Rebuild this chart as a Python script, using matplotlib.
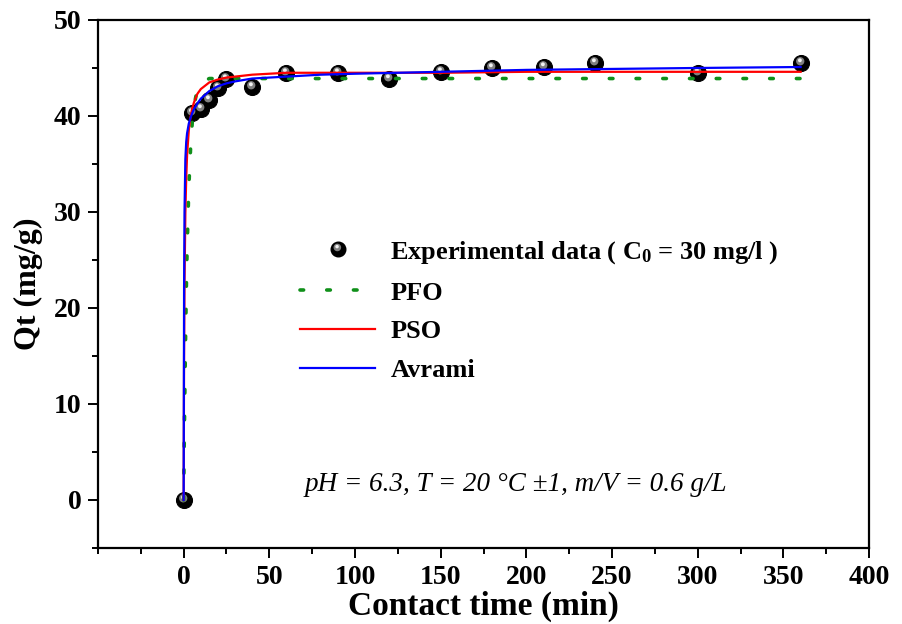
import matplotlib
matplotlib.use("Agg")
import matplotlib.pyplot as plt
from matplotlib.lines import Line2D
from matplotlib.legend_handler import HandlerTuple
from matplotlib.ticker import MultipleLocator
from matplotlib.path import Path

plt.rcParams['font.family'] = ['Liberation Serif', 'DejaVu Serif']
plt.rcParams['mathtext.default'] = 'regular'

# Experimental data
t_exp = [0, 5, 10, 15, 20, 25, 40, 60, 90, 120, 150, 180, 210, 240, 300, 360]
q_exp = [0, 40.3, 40.7, 41.7, 42.9, 43.9, 43.0, 44.5, 44.5, 43.9, 44.6, 45.0, 45.1, 45.5, 44.5, 45.5]

# Model curves
t_fit = [0, 0.25, 0.5, 1, 1.5, 2, 3, 4, 5, 6, 8, 10, 15, 20, 25, 30, 40, 50, 60, 80,
         100, 150, 200, 250, 300, 360]
q_pfo = [0, 4.5, 8.5, 15.5, 21.5, 26.0, 32.5, 36.5, 39.3, 41.0, 42.8, 43.5, 43.9, 43.9,
         43.9, 43.9, 43.9, 43.9, 43.9, 43.9, 43.9, 43.9, 43.9, 43.9, 43.9, 43.9]
q_pso = [0, 15.0, 22.5, 29.9, 33.5, 35.9, 38.5, 39.9, 40.8, 41.4, 42.3, 42.8, 43.5, 43.8,
         44.0, 44.1, 44.3, 44.4, 44.5, 44.5, 44.5, 44.5, 44.6, 44.6, 44.6, 44.6]
q_avrami = [0, 22.0, 30.0, 35.5, 37.3, 38.2, 39.2, 39.8, 40.3, 40.7, 41.3, 41.8, 42.6,
            43.1, 43.4, 43.6, 43.9, 44.0, 44.1, 44.3, 44.4, 44.6, 44.8, 44.9, 45.0, 45.1]

labels = ['Experimental data ( C$_0$ = 30 mg/l )', 'PFO', 'PSO', 'Avrami']
x_label = 'Contact time (min)'
y_label = 'Qt (mg/g)'
note = 'pH = 6.3, T = 20 \u00b0C \u00b11, m/V = 0.6 g/L'


def glint(cx, cy, r):
    """Off-centre circle marker whose path extent stays the unit box."""
    frame = Path([[-0.5, -0.5], [0.5, 0.5]], [Path.MOVETO, Path.MOVETO])
    return Path.make_compound_path(Path.circle((cx, cy), r), frame)


m_grey = glint(-0.08, 0.14, 0.26)
m_white = glint(-0.1, 0.2, 0.12)

fig = plt.figure(figsize=(9.02, 6.24), dpi=100)
ax = fig.add_axes([0.1086, 0.1218, 0.855, 0.8462])

ms = 11.5
ax.plot(t_exp, q_exp, 'o', color='black', ms=ms, mec='black', mew=0.8, zorder=3, clip_on=False)
ax.plot(t_exp, q_exp, ls='none', marker=m_grey, color='#808080', ms=ms, mew=0, zorder=3.1, clip_on=False)
ax.plot(t_exp, q_exp, ls='none', marker=m_white, color='#f2f2f2', ms=ms, mew=0, zorder=3.2, clip_on=False)

green = '#10901a'
l_pfo, = ax.plot(t_fit, q_pfo, color=green, lw=2.6, dashes=(1.0, 6.4),
                 dash_capstyle='round', zorder=4)
l_pso, = ax.plot(t_fit, q_pso, color='#ff0000', lw=1.6, zorder=4)
l_av, = ax.plot(t_fit, q_avrami, color='#0000ff', lw=1.6, zorder=4.1)

ax.set_xlim(-50, 400)
ax.set_ylim(-5, 50)
ax.xaxis.set_minor_locator(MultipleLocator(25))
ax.yaxis.set_minor_locator(MultipleLocator(5))
ax.set_xticks([0, 50, 100, 150, 200, 250, 300, 350, 400])
ax.set_yticks([0, 10, 20, 30, 40, 50])

for s in ax.spines.values():
    s.set_linewidth(1.6)
ax.tick_params(which='major', direction='out', length=7, width=1.4,
               labelsize=20, pad=5, top=False, right=False)
ax.tick_params(which='minor', direction='out', length=4, width=1.4, top=False, right=False)
for lab in ax.get_xticklabels() + ax.get_yticklabels():
    lab.set_fontweight('bold')

ax.set_xlabel(x_label, fontsize=24, fontweight='bold', labelpad=1)
ax.set_ylabel(y_label, fontsize=23, fontweight='bold', labelpad=8)

lms = 10.5
h_exp = (Line2D([], [], ls='none', marker='o', color='black', ms=lms),
         Line2D([], [], ls='none', marker=m_grey, color='#808080', ms=lms, mew=0),
         Line2D([], [], ls='none', marker=m_white, color='#f2f2f2', ms=lms, mew=0))
leg = ax.legend([h_exp, l_pfo, l_pso, l_av], labels,
                handler_map={tuple: HandlerTuple(ndivide=1, pad=0)},
                loc='upper left', bbox_to_anchor=(0.245, 0.61), frameon=False,
                prop={'family': 'Liberation Serif', 'weight': 'bold', 'size': 19},
                handlelength=2.85, handletextpad=0.57, labelspacing=0.58, borderpad=0)

ax.text(194, 1.6, note, fontsize=19.5, fontstyle='italic', ha='center', va='center')

fig.savefig('out.png', dpi=100)
